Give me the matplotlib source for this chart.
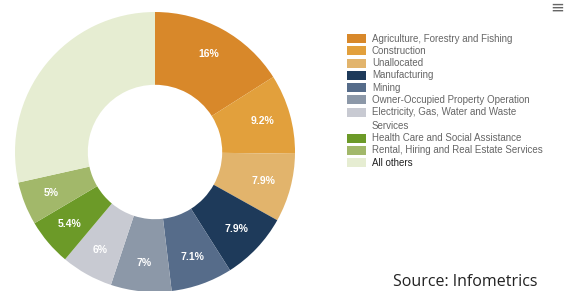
import matplotlib
matplotlib.use("Agg")
import matplotlib.pyplot as plt
from matplotlib.patches import Rectangle
import numpy as np

categories = ["Agriculture, Forestry and Fishing", "Construction", "Unallocated",
              "Manufacturing", "Mining", "Owner-Occupied Property Operation",
              "Electricity, Gas, Water and Waste\nServices",
              "Health Care and Social Assistance",
              "Rental, Hiring and Real Estate Services", "All others"]
values = [16, 9.2, 7.9, 7.9, 7.1, 7, 6, 5.4, 5, 28.5]
labels = ["16%", "9.2%", "7.9%", "7.9%", "7.1%", "7%", "6%", "5.4%", "5%", ""]
colors = ["#D8882A", "#E2A03C", "#E2B46C", "#1E3A5A", "#566C8A", "#8C98A8",
          "#C8CAD2", "#6C9A28", "#A2B86A", "#E6EDD2"]

W, H = 569, 291
fig = plt.figure(figsize=(W / 100, H / 100), dpi=100)
fig.patch.set_facecolor("white")

cx, cy, R = 155, 152, 140
ax = fig.add_axes([(cx - R) / W, (H - cy - R) / H, 2 * R / W, 2 * R / H])
wedges, texts = ax.pie(values, colors=colors, startangle=90, counterclock=False,
                       radius=1, wedgeprops=dict(width=0.52, linewidth=0))
for w, lab in zip(wedges, labels):
    ang = np.deg2rad((w.theta1 + w.theta2) / 2)
    r = 0.8
    ax.text(r * np.cos(ang), r * np.sin(ang), lab, ha="center", va="center",
            color="white", fontsize=7.5, fontweight="bold", family="Liberation Sans")
ax.set_xlim(-1, 1)
ax.set_ylim(-1, 1)
ax.set_aspect("equal")
ax.axis("off")

# legend
y = 38.5
step = 12.3
for cat, col in zip(categories, colors):
    fig.patches.append(Rectangle((347 / W, 1 - (y + 4.5) / H), 19 / W, 9 / H,
                                 transform=fig.transFigure, facecolor=col,
                                 edgecolor="none"))
    tcol = "#222222" if cat == "All others" else "#666666"
    if "\n" in cat:
        fig.text(372 / W, 1 - (y - 5.5) / H, cat, ha="left", va="top",
                 fontsize=7, color=tcol, family="Liberation Sans", linespacing=1.55)
        y += step * 2.1
    else:
        fig.text(372 / W, 1 - y / H, cat, ha="left", va="center",
                 fontsize=7, color=tcol, family="Liberation Sans")
        y += step

fig.text(557 / W, 1 - 8 / H, "\u2261", ha="center", va="center", fontsize=12,
         color="#666666", family="DejaVu Sans")
fig.text(393 / W, 1 - 282 / H, "Source: Infometrics", ha="left", va="center",
         fontsize=11.5, color="#222222", family="Open Sans")

fig.savefig("out.png", dpi=100)
